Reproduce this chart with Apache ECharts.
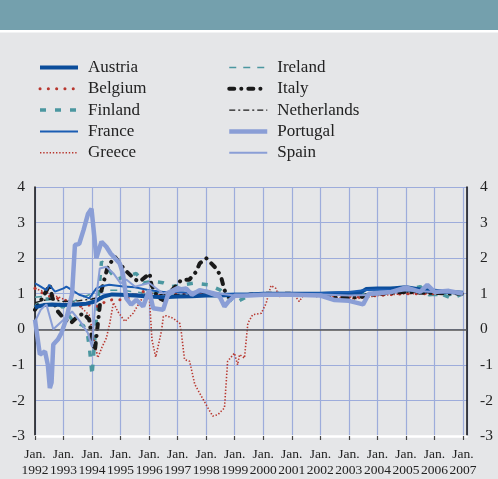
<!DOCTYPE html>
<html><head><meta charset="utf-8">
<script src="https://cdn.jsdelivr.net/npm/echarts@6/dist/echarts.min.js"></script>
<style>html,body{margin:0;padding:0;background:#e5e6e8}#c{width:498px;height:479px}</style>
</head><body><div id="c"></div>
<script>
// ---- data (decimal years, values) ----
const austriaX = [1992,1992.3,1992.6,1993,1993.4,1993.8,1994.1,1994.4,1994.7,1995,1995.5,1996,1996.5,1997,1997.5,1998,1998.5,1999,1999.5,2000,2001,2002,2003,2003.4,2003.6,2004,2004.5,2005,2005.5,2006,2006.5,2007];
const austriaY = [0.62,0.68,0.7,0.68,0.7,0.72,0.78,0.92,0.98,0.97,0.95,0.92,0.9,0.92,0.93,0.95,0.95,0.97,0.98,1.0,1.0,1.0,1.02,1.03,1.13,1.15,1.15,1.18,1.12,1.08,1.05,1.03];

const belgiumX = [1992,1992.3,1992.6,1993,1993.5,1993.9,1994.27,1994.45,1994.7,1995,1995.4,1995.8,1996.3,1997,1997.5,1998,1999,2000,2001,2002,2003,2003.5,2004,2005,2006,2007];
const belgiumY = [1.15,1.0,0.9,0.83,0.64,0.68,0.64,0.78,0.83,0.83,0.9,1.06,0.95,0.98,1.0,1.0,0.97,1.0,0.98,0.97,0.92,0.9,0.95,1.0,1.0,1.02];

const finlandX = [1992,1992.2,1992.6,1993,1993.34,1993.7,1993.85,1993.92,1994.0,1994.15,1994.33,1994.5,1994.65,1994.85,1995.15,1995.55,1995.8,1996.1,1996.48,1996.8,1997.2,1997.6,1998.1,1998.5,1998.99,1999.5,2000,2001,2002,2003,2003.5,2004,2004.5,2005,2005.5,2005.8,2006.2,2006.6,2007];
const finlandY = [0.6,0.83,0.87,0.6,0.22,0.1,-0.2,-0.62,-1.3,0.3,1.9,1.76,1.6,1.4,1.48,1.57,1.3,1.35,1.31,1.2,1.25,1.3,1.25,1.1,0.73,0.95,1.0,0.98,1.0,0.95,1.0,1.05,1.15,1.1,1.2,0.97,1.0,0.87,1.0];

const franceX = [1992,1992.1,1992.3,1992.4,1992.5,1992.7,1993,1993.1,1993.3,1993.55,1993.75,1993.9,1994.15,1994.3,1994.6,1995.1,1995.5,1996,1996.5,1997,1997.5,1998,1998.5,1999,2000,2001,2002,2003,2003.5,2004,2005,2006,2007];
const franceY = [1.29,1.25,1.15,1.1,1.25,1.06,1.15,1.2,1.1,0.97,0.92,0.87,1.15,1.2,1.25,1.2,1.18,1.1,1.05,1.05,1.02,1.05,1.0,1.0,1.0,1.0,1.02,1.05,1.1,1.12,1.1,1.05,1.05];

const greeceX = [1992,1992.5,1993,1993.5,1993.9,1994.2,1994.35,1994.5,1994.62,1994.75,1994.9,1995.15,1995.44,1995.7,1995.85,1996.0,1996.1,1996.23,1996.43,1996.5,1996.6,1996.84,1997.07,1997.13,1997.24,1997.42,1997.6,1997.83,1998.06,1998.23,1998.41,1998.64,1998.7,1998.75,1998.99,1999.1,1999.17,1999.34,1999.46,1999.63,1999.93,2000.1,2000.27,2000.44,2000.56,2000.8,2001.1,2001.26,2001.4,2002,2002.5,2003,2003.5,2004,2005,2006,2006.7,2007];
const greeceY = [1.15,1.0,0.85,0.7,0.4,-0.8,-0.5,-0.25,0.17,0.75,0.5,0.22,0.45,0.8,0.97,1.0,-0.3,-0.78,-0.06,0.36,0.38,0.31,0.17,-0.1,-0.85,-0.9,-1.55,-1.88,-2.21,-2.44,-2.4,-2.21,-1.5,-0.9,-0.67,-1.0,-0.71,-0.81,0.17,0.41,0.45,0.73,1.23,1.15,0.92,0.98,0.95,0.78,0.95,0.95,0.9,0.85,0.88,0.95,1.0,1.0,1.05,1.0];

const irelandX = [1992,1992.5,1993,1993.5,1994,1994.5,1995,1995.5,1996,1996.5,1997,1997.5,1998,1998.5,1999,2000,2001,2002,2003,2004,2004.5,2005,2005.5,2006,2006.5,2007];
const irelandY = [0.9,0.95,0.6,0.85,1.0,1.1,1.1,1.05,1.0,1.05,0.95,1.0,0.98,1.0,1.0,1.0,0.98,1.0,0.97,1.0,1.05,1.1,1.0,0.95,0.95,1.0];

const italyX = [1992,1992.2,1992.52,1992.6,1992.75,1993,1993.25,1993.5,1993.7,1993.9,1994.0,1994.1,1994.33,1994.55,1994.8,1994.97,1995.15,1995.5,1995.67,1996.02,1996.08,1996.3,1996.6,1996.8,1997.13,1997.4,1997.65,1997.77,1998.0,1998.35,1998.52,1998.64,1998.8,1999.2,2000,2001,2002,2002.5,2003,2003.5,2004,2005,2006,2007];
const italyY = [0.55,0.8,1.25,0.92,0.55,0.31,0.17,0.36,0.45,0.27,-0.29,-0.6,1.1,1.76,2.04,1.85,1.67,1.4,1.34,1.57,1.25,0.9,0.78,1.1,1.39,1.39,1.62,1.85,2.0,1.71,1.48,1.1,0.9,0.95,1.0,1.0,0.95,0.9,0.88,0.92,1.0,1.05,1.02,1.0];

const netherlandsX = [1992,1992.5,1993,1993.5,1994,1994.5,1995,1996,1997,1998,1999,2000,2001,2002,2003,2004,2005,2006,2007];
const netherlandsY = [0.75,0.85,0.78,0.8,0.85,0.95,1.0,0.97,0.98,1.0,1.0,1.0,1.0,0.98,0.97,1.0,1.05,1.02,1.0];

const portugalX = [1992,1992.17,1992.35,1992.45,1992.52,1992.58,1992.64,1992.8,1992.93,1993.1,1993.3,1993.4,1993.55,1993.7,1993.86,1993.98,1994.08,1994.15,1994.33,1994.5,1994.65,1994.8,1994.97,1995.08,1995.2,1995.37,1995.55,1995.79,1996.0,1996.14,1996.49,1996.66,1996.9,1997.3,1997.5,1997.77,1998.0,1998.47,1998.64,1998.8,1999.0,1999.5,2000,2001,2002,2002.5,2003,2003.5,2003.7,2004,2004.5,2005,2005.5,2005.75,2006,2006.5,2007];
const portugalY = [0.27,-0.71,-0.62,-1.0,-1.65,-1.5,-0.43,-0.29,-0.1,0.3,1.0,2.37,2.4,2.79,3.25,3.39,2.6,2.0,2.46,2.32,2.13,2.0,1.85,1.57,0.87,0.69,0.83,0.64,1.1,0.59,0.55,0.97,1.1,1.15,0.97,1.1,1.06,0.92,0.64,0.8,0.94,0.95,0.97,0.97,0.95,0.82,0.8,0.7,1.0,1.02,1.05,1.18,1.05,1.25,1.05,1.08,1.0];

const spainX = [1992,1992.2,1992.4,1992.64,1993,1993.3,1993.6,1993.85,1994.0,1994.1,1994.27,1994.5,1994.75,1995,1995.2,1995.5,1996,1996.5,1997,1997.5,1998,1998.5,1999,2000,2001,2002,2003,2004,2005,2006,2007];
const spainY = [0.22,0.55,0.7,0.0,0.27,0.5,0.2,-0.1,-0.5,0.6,1.71,1.76,1.57,1.29,1.4,1.2,1.3,1.0,1.2,1.05,1.1,1.0,0.95,1.0,1.0,0.98,0.95,0.97,1.1,1.05,1.02];

const yTicks = [-3,-2,-1,0,1,2,3,4];
const yearTicks = [1992,1993,1994,1995,1996,1997,1998,1999,2000,2001,2002,2003,2004,2005,2006,2007];

const pairs = (xs, ys) => xs.map((x, i) => [x, ys[i]]);
const serif = 'Liberation Serif, Times New Roman, serif';

const seriesDefs = [
  {name:'Austria', x:austriaX, y:austriaY, color:'#0b4d9b', width:4, type:'solid', z:5},
  {name:'Belgium', x:belgiumX, y:belgiumY, color:'#b8372f', width:3, type:[0.1,8.2], cap:'round', z:4},
  {name:'Finland', x:finlandX, y:finlandY, color:'#4b97a0', width:3.5, type:[6,9], z:3},
  {name:'France', x:franceX, y:franceY, color:'#1b5db3', width:2, type:'solid', z:6},
  {name:'Greece', x:greeceX, y:greeceY, color:'#b8372f', width:1.6, type:[1.4,1.8], z:4},
  {name:'Ireland', x:irelandX, y:irelandY, color:'#4b97a0', width:1.5, type:[7,7], z:3},
  {name:'Italy', x:italyX, y:italyY, color:'#1a1a1a', width:4, type:[5,7,0.1,7], cap:'round', z:4},
  {name:'Netherlands', x:netherlandsX, y:netherlandsY, color:'#1a1a1a', width:1.4, type:[6,3,2,3], z:4},
  {name:'Portugal', x:portugalX, y:portugalY, color:'#8a9ed6', width:4.5, type:'solid', z:7},
  {name:'Spain', x:spainX, y:spainY, color:'#8a9ed6', width:2, type:'solid', z:7}
];

const series = seriesDefs.map(d => ({
  name: d.name, type: 'line', data: pairs(d.x, d.y), symbol: 'none', smooth: false,
  z: d.z, color: d.color,
  lineStyle: {color: d.color, width: d.width, type: d.type, cap: d.cap || 'butt'}
}));
series[0].markLine = {
  silent: true, symbol: 'none', label: {show: false},
  lineStyle: {color: '#555', width: 1.5, type: 'solid'},
  data: [{yAxis: 0}]
};

const chart = echarts.init(document.getElementById('c'), null, {renderer: 'canvas'});
const legendBase = {
  orient: 'vertical', itemWidth: 38, itemHeight: 12, itemGap: 4.3,
  itemStyle: {opacity: 0},
  lineStyle: {width: 'inherit'},
  textStyle: {fontFamily: serif, fontSize: 17, color: '#222', padding: [0,0,0,5]},
  selectedMode: false
};
chart.setOption({
  backgroundColor: '#e5e6e8',
  animation: false,
  graphic: [
    {type: 'rect', shape: {x: 0, y: 0, width: 498, height: 30}, style: {fill: '#74a0ad'}, z: -1},
    {type: 'rect', shape: {x: 0, y: 30, width: 498, height: 2.5}, style: {fill: '#ffffff'}, z: -1}
  ],
  legend: [
    Object.assign({}, legendBase, {left: 33, top: 54, data: ['Austria','Belgium','Finland','France','Greece']}),
    Object.assign({}, legendBase, {left: 222, top: 54, data: ['Ireland','Italy','Netherlands','Portugal','Spain']})
  ],
  grid: {left: 35, right: 31, top: 187, bottom: 42},
  xAxis: {
    type: 'value', min: yearTicks[0], max: 2007.14, interval: 1,
    axisLine: {show: true, onZero: false, lineStyle: {color: '#ffffff', width: 2.5}},
    axisTick: {show: true, length: 4, lineStyle: {color: '#444', width: 1.2}},
    splitLine: {show: true, lineStyle: {color: '#9dacdb', width: 1.2}},
    axisLabel: {
      margin: 10, fontFamily: serif, fontSize: 13.5, color: '#222', lineHeight: 16.5,
      showMaxLabel: false,
      formatter: v => (Math.abs(v - Math.round(v)) < 1e-6 && yearTicks.indexOf(Math.round(v)) >= 0) ? 'Jan.\n' + Math.round(v) : ''
    }
  },
  yAxis: [
    {type: 'value', min: yTicks[0], max: yTicks[yTicks.length-1], interval: 1, position: 'left',
     axisLine: {show: true, lineStyle: {color: '#111', width: 1.5}}, axisTick: {show: false},
     splitLine: {show: true, lineStyle: {color: '#9dacdb', width: 1.2}},
     axisLabel: {margin: 10, fontFamily: serif, fontSize: 15.5, color: '#222'}},
    {type: 'value', min: yTicks[0], max: yTicks[yTicks.length-1], interval: 1, position: 'right',
     axisLine: {show: true, lineStyle: {color: '#111', width: 1.5}}, axisTick: {show: false},
     splitLine: {show: false},
     axisLabel: {margin: 13, fontFamily: serif, fontSize: 15.5, color: '#222'}}
  ],
  series: series
});
</script></body></html>
